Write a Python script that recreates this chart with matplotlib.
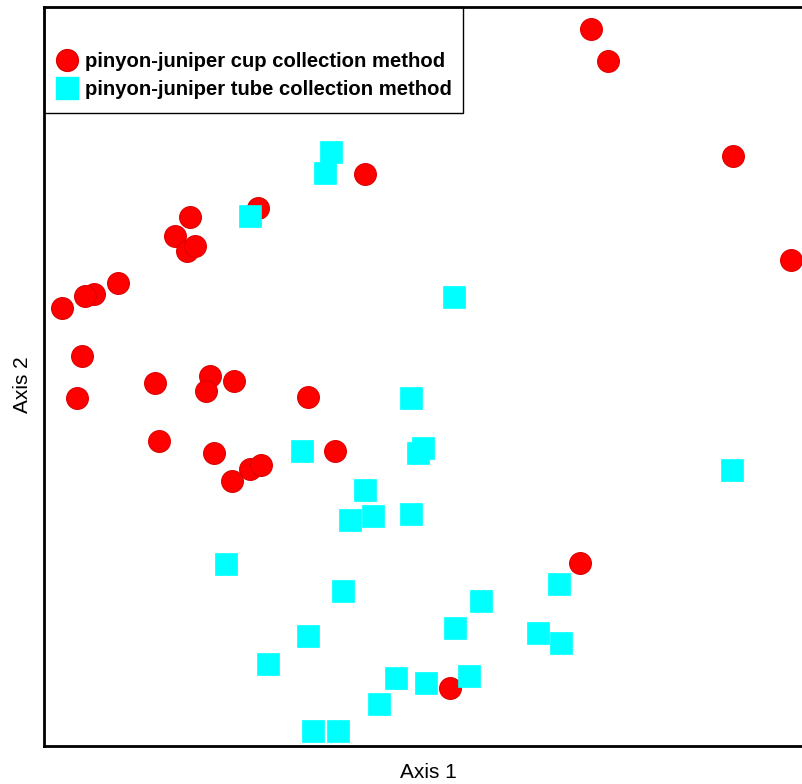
import matplotlib
matplotlib.use('Agg')
import matplotlib.pyplot as plt
from matplotlib.patches import Rectangle
from matplotlib.lines import Line2D

# ordination scores (arbitrary units)
cup_x = [547, 564, 689, 747, 321, 214, 146, 131, 143, 151, 74, 50, 41, 18, 38,
         33, 111, 166, 162, 190, 264, 115, 170, 291, 188, 206, 217, 536, 406]
cup_y = [717, 685, 590, 486, 572, 538, 529, 510, 495, 500, 463, 452, 450, 438, 390,
         348, 363, 370, 355, 365, 349, 305, 293, 295, 265, 277, 281, 183, 58]

tube_x = [287, 281, 206, 410, 367, 258, 379, 374, 321, 306, 329, 367, 688, 182,
          299, 515, 437, 264, 411, 494, 517, 224, 352, 382, 425, 335, 269, 294]
tube_y = [594, 573, 530, 449, 348, 295, 298, 293, 256, 226, 230, 232, 276, 182,
          155, 162, 145, 110, 118, 113, 103, 82, 68, 63, 70, 42, 15, 15]

cup_label = 'pinyon-juniper cup collection method'
tube_label = 'pinyon-juniper tube collection method'

W, H = 802, 784
fig = plt.figure(figsize=(W / 100, H / 100), dpi=100)
ax = fig.add_axes([44 / W, 38 / H, (812 - 44) / W, 739 / H])

ms = 15.7
ax.plot(cup_x, cup_y, 'o', ms=ms, mfc='#ff0000', mec='#dd0000', mew=0.8, ls='none')
ax.plot(tube_x, tube_y, 's', ms=ms, mfc='#00ffff', mec='#00ffff', mew=0.5, ls='none')

ax.set_xlim(0, 768)
ax.set_ylim(0, 739)
ax.set_xticks([])
ax.set_yticks([])
for side in ['left', 'bottom', 'top']:
    ax.spines[side].set_linewidth(2)
ax.spines['right'].set_visible(False)

lab_font = ['Liberation Sans Narrow', 'Liberation Sans', 'DejaVu Sans']
fig.text(428 / W, 1 - 772 / H, 'Axis 1', ha='center', va='center',
         fontsize=15, family=lab_font)
fig.text(22 / W, 1 - 385 / H, 'Axis 2', ha='center', va='center',
         fontsize=15, rotation=90, family=lab_font)

# legend box
fig.patches.append(Rectangle((44 / W, 1 - 113 / H), (463 - 44) / W, (113 - 7) / H,
                             transform=fig.transFigure, fill=False,
                             edgecolor='black', linewidth=1, zorder=5))
handles = [
    Line2D([], [], marker='o', ls='none', ms=ms, mfc='#ff0000', mec='#dd0000'),
    Line2D([], [], marker='s', ls='none', ms=ms, mfc='#00ffff', mec='#00ffff'),
]
leg = fig.legend(handles, [cup_label, tube_label], loc='center left',
                 bbox_to_anchor=(57 / W, 1 - 75.5 / H), frameon=False,
                 prop={'family': 'Liberation Sans', 'weight': 'bold', 'size': 14.6},
                 handlelength=1.0, handletextpad=0.38, labelspacing=0.42,
                 borderpad=0, borderaxespad=0)

fig.savefig('out.png', dpi=100)
